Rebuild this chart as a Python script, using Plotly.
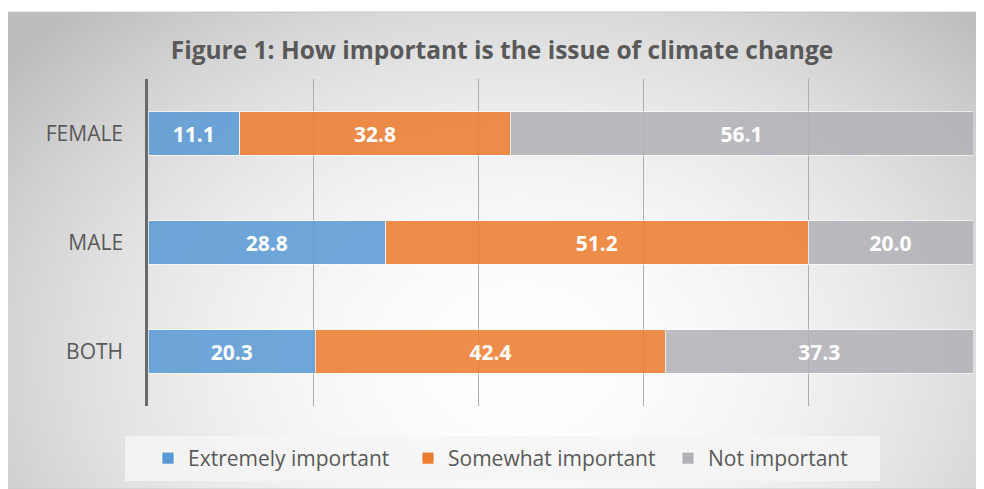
import base64, struct, zlib
import numpy as np
import plotly.graph_objects as go

categories = ["FEMALE", "MALE", "BOTH"]
extremely = [11.1, 28.8, 20.3]
somewhat = [32.8, 51.2, 42.4]
not_imp = [56.1, 20.0, 37.3]
series_names = ["Extremely important", "Somewhat important", "Not important"]
series_colors = ["#5B9BD5", "#ED7D31", "#B2B2B8"]
title_text = "Figure 1: How important is the issue of climate change"

OFF = 8  # page body margin of the html page
W, H = 984 - OFF, 489 - OFF
# plot area in page pixel coordinates
PX0, PX1, PY0, PY1 = 148, 973, 79, 406
L, R, T, B = PX0 - OFF, 984 - PX1, PY0 - OFF, 489 - PY1
PW, PH = PX1 - PX0, PY1 - PY0

def px2paper_x(px):
    return (px - PX0) / PW

def px2paper_y(py):
    return (PY1 - py) / PH

# radial gradient background image (white center, gray edges)
fx0, fy0, fx1, fy1 = 5, 12, 980, 489
iw, ih = 390, 190
xs = np.linspace(fx0, fx1, iw)
ys = np.linspace(fy0, fy1, ih)
X, Y = np.meshgrid(xs, ys)
cx, cy, rx, ry = 520, 360, 660, 490
d = np.sqrt(((X - cx) / rx) ** 2 + ((Y - cy) / ry) ** 2)
d = np.clip(d, 0, 1)
val = 255 - 68 * d ** 1.9
arr = np.stack([val, val, val], axis=-1).astype(np.uint8)

def png_uri(a):
    h, w, _ = a.shape
    raw = b"".join(b"\x00" + a[i].tobytes() for i in range(h))
    def chunk(t, data):
        c = struct.pack(">I", len(data)) + t + data
        return c + struct.pack(">I", zlib.crc32(t + data) & 0xFFFFFFFF)
    png = b"\x89PNG\r\n\x1a\n" + chunk(b"IHDR", struct.pack(">IIBBBBB", w, h, 8, 2, 0, 0, 0)) \
        + chunk(b"IDAT", zlib.compress(raw, 9)) + chunk(b"IEND", b"")
    return "data:image/png;base64," + base64.b64encode(png).decode()

font = "Open Sans"
fig = go.Figure()
for name, vals, col in zip(series_names, [extremely, somewhat, not_imp], series_colors):
    fig.add_trace(go.Bar(
        y=categories, x=vals, name=name, orientation="h",
        marker=dict(color=col, opacity=0.87, line=dict(color="rgba(255,255,255,0.7)", width=1)),
        texttemplate="%{x:.1f}", textposition="inside", insidetextanchor="middle",
        textangle=0, constraintext="none",
        textfont=dict(color="white", size=21, family=font, weight="bold"),
        hoverinfo="skip",
    ))

# legend box (Excel-style legend background)
LX0, LX1, LY0, LY1 = 125, 880, 436, 481

fig.update_layout(
    width=W, height=H,
    margin=dict(l=L, r=R, t=T, b=B, pad=0, autoexpand=False),
    barmode="stack", bargap=0.605,
    paper_bgcolor="white", plot_bgcolor="rgba(0,0,0,0)",
    title=dict(text=title_text, xref="container", x=(502 - OFF) / W, xanchor="center",
               yref="container", y=1 - (50 - OFF) / H, yanchor="middle",
               font=dict(family=font, size=24.5, color="#595959", weight="bold")),
    xaxis=dict(range=[0, 100], dtick=20, showticklabels=False, showgrid=True,
               gridcolor="#ADADAD", gridwidth=1, zeroline=False, showline=False, fixedrange=True),
    yaxis=dict(categoryorder="array", categoryarray=categories, autorange="reversed",
               showline=True, linecolor="#6A6A6A", linewidth=2.5, ticks="",
               ticklabelstandoff=18,
               tickfont=dict(family=font, size=21, color="#595959"), showgrid=False),
    showlegend=True,
    legend=dict(orientation="h", x=px2paper_x(148), xanchor="left",
                xref="paper", y=px2paper_y((LY0 + LY1) / 2), yanchor="middle",
                bgcolor="rgba(0,0,0,0)", borderwidth=0,
                entrywidth=215, entrywidthmode="pixels",
                font=dict(family=font, size=21, color="#595959"), traceorder="normal",
                itemclick=False, itemdoubleclick=False),
    images=[dict(source=png_uri(arr), xref="paper", yref="paper",
                 x=px2paper_x(fx0), y=px2paper_y(fy0),
                 sizex=(fx1 - fx0) / PW, sizey=(fy1 - fy0) / PH,
                 xanchor="left", yanchor="top", sizing="stretch", layer="below")],
    shapes=[
        dict(type="rect", xref="paper", yref="paper",
             x0=px2paper_x(fx0), x1=px2paper_x(fx1), y0=px2paper_y(fy1), y1=px2paper_y(fy0),
             line=dict(color="#C8C8C8", width=1), fillcolor="rgba(0,0,0,0)", layer="below"),
        dict(type="rect", xref="paper", yref="paper",
             x0=px2paper_x(LX0), x1=px2paper_x(LX1), y0=px2paper_y(LY1), y1=px2paper_y(LY0),
             line=dict(width=0), fillcolor="rgba(244,244,244,0.85)", layer="below"),
    ],
)

fig.write_html("out.html")
